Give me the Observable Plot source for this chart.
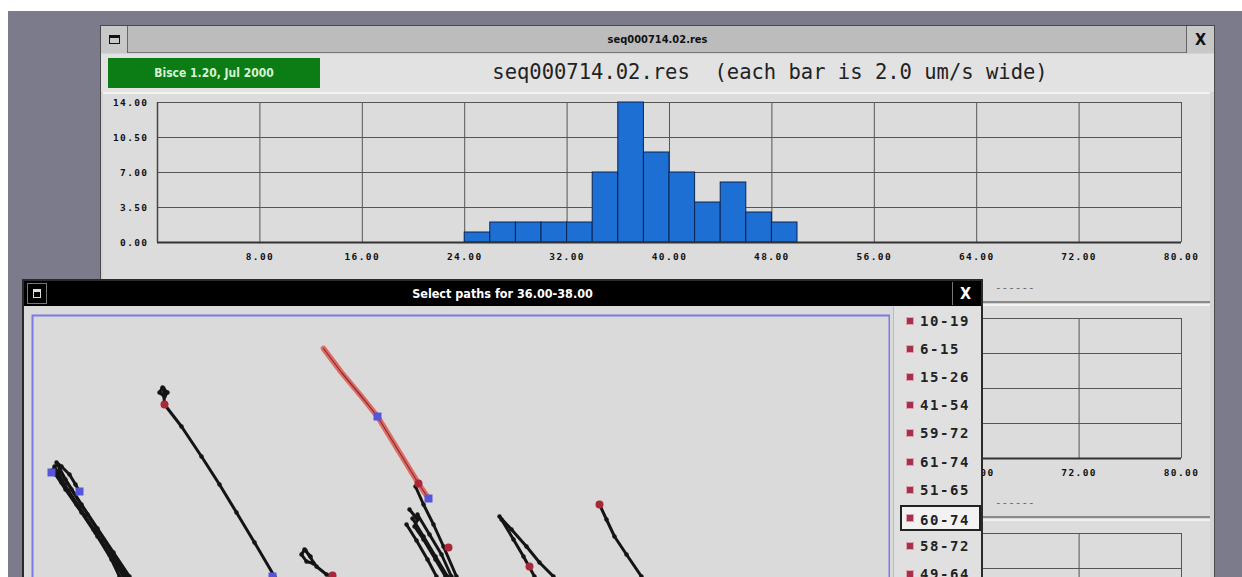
<!DOCTYPE html>
<html><head><meta charset="utf-8">
<script src="https://cdn.jsdelivr.net/npm/d3@7"></script>
<script src="https://cdn.jsdelivr.net/npm/@observablehq/plot@0.6"></script>
<style>
html,body{margin:0;padding:0;width:1242px;height:577px;overflow:hidden;background:#fff;position:relative;}
.a{position:absolute;box-sizing:border-box;}
.bar{font-family:"DejaVu Sans Condensed","DejaVu Sans",sans-serif;font-weight:bold;}
.lg{font-family:"DejaVu Sans Mono",monospace;font-weight:bold;font-size:14px;color:#222;letter-spacing:1.6px;}
.dash{font-family:"DejaVu Sans Mono",monospace;font-size:11px;color:#666;}
</style></head>
<body>
<script>
// ---- histogram data ----
const binStart = [24, 26, 28, 30, 32, 34, 36, 38, 40, 42, 44, 46, 48];
const binCount = [1, 2, 2, 2, 2, 7, 14, 9, 7, 4, 6, 3, 2];
const binWidth = 2;
const xTicks = [8, 16, 24, 32, 40, 48, 56, 64, 72, 80];
const xGrid = [0, 8, 16, 24, 32, 40, 48, 56, 64, 72, 80];
const yTicks = [0, 3.5, 7, 10.5, 14];
const windowTitle = "seq000714.02.res";
const chartTitle = "seq000714.02.res  (each bar is 2.0 um/s wide)";
const versionLabel = "Bisce 1.20, Jul 2000";
const popupTitle = "Select paths for 36.00-38.00";

// ---- path selector data ----
const trackLabels = ["10-19", "6-15", "15-26", "41-54", "59-72", "61-74", "51-65", "60-74", "58-72", "49-64"];
const selectedTrack = "60-74";
const trackRed = [[292,34],[310,58],[330,82],[346,102],[365,133],[387,169],[397,184]];
const trackB = [[131,73],[128,78],[133,82],[136,78],[132,74],[133,90],[150,112],[170,142],[188,170],[205,198],[223,228],[243,262]];
const trackC1 = [[25,148],[30,152],[38,160],[44,170],[48,177]];
const trackC2 = [[22,155],[30,168],[45,190],[62,215],[78,240],[92,262]];
const trackC3 = [[26,150],[34,165],[50,190],[66,214],[82,238],[98,262]];
const trackC4 = [[24,160],[34,175],[50,198],[66,222],[80,245],[88,262]];
const trackC5 = [[28,156],[40,175],[56,200],[72,225],[88,250],[96,262]];
const trackC6 = [[23,152],[33,170],[48,193],[64,218],[80,242],[94,262]];
const trackD = [[273,235],[270,240],[275,247],[282,249],[279,242],[274,236],[285,252],[295,260],[301,262]];
const trackE1 = [[384,172],[392,190],[402,210],[412,232],[425,262]];
const trackE2 = [[378,195],[386,205],[383,212],[392,225],[404,245],[414,262]];
const trackE3 = [[375,210],[385,226],[396,245],[405,262]];
const trackE4 = [[386,200],[398,220],[410,240],[420,262]];
const trackE5 = [[381,204],[392,222],[404,242],[416,262]];
const trackF1 = [[468,202],[480,215],[495,232],[508,248],[522,262]];
const trackF2 = [[470,205],[482,225],[492,242],[503,262]];
const trackG = [[568,190],[575,205],[583,222],[595,240],[610,262]];
const redDots = [[133,90],[387,169],[301,261],[417,233],[498,252],[568,190]];
const blueSquares = [[346,102],[397,184],[48,177],[20,158],[241,262]];
</script>

<div class="a" style="left:8px;top:11px;width:1234px;height:566px;background:#7b7b8c;"></div>

<!-- main window -->
<div class="a" style="left:100px;top:25px;width:1115px;height:560px;background:#d4d4d4;border:1px solid #4a4a4a;"></div>
<div class="a bar" style="left:101px;top:26px;width:1113px;height:27px;background:#bcbcbc;border-bottom:1px solid #777;text-align:center;line-height:27px;font-size:11px;color:#111;" id="wt"></div>
<div class="a" style="left:101px;top:26px;width:27px;height:27px;background:#c8c8c8;border-right:1px solid #666;">
  <div class="a" style="left:8px;top:9px;width:11px;height:9px;border:1.5px solid #111;border-top-width:3px;"></div>
</div>
<div class="a bar" style="left:1186px;top:26px;width:28px;height:27px;background:#c8c8c8;border-left:1px solid #666;text-align:center;line-height:27px;font-size:16px;color:#111;">X</div>
<div class="a" style="left:101px;top:54px;width:1113px;height:38px;background:#e2e2e2;"></div>
<div class="a bar" style="left:108px;top:58px;width:212px;height:30px;background:#0b7d14;color:#d8f2d8;font-size:12px;text-align:center;line-height:30px;" id="ver"></div>
<div class="a" id="ct" style="left:330px;top:60px;width:880px;text-align:center;font-family:'DejaVu Sans Mono',monospace;font-size:20.5px;color:#222;white-space:pre;"></div>

<div class="a" style="left:103px;top:92px;width:1107px;height:211px;background:#dcdcdc;border-top:2px solid #f2f2f2;border-bottom:2px solid #8a8a8a;"></div>
<div class="a" style="left:103px;top:304px;width:1107px;height:214px;background:#dcdcdc;border-top:2px solid #f2f2f2;border-bottom:2px solid #8a8a8a;"></div>
<div class="a" style="left:103px;top:519px;width:1107px;height:70px;background:#dcdcdc;border-top:2px solid #f2f2f2;"></div>
<div class="a" id="h1" style="left:103px;top:92px;"></div>
<div class="a" id="h2" style="left:103px;top:308px;"></div>
<div class="a" id="h3" style="left:103px;top:523px;"></div>
<div class="a dash" style="left:995px;top:281px;">------</div>
<div class="a dash" style="left:995px;top:496px;">------</div>

<!-- popup window -->
<div class="a" style="left:22px;top:279px;width:961px;height:310px;background:#d8d8d8;border:2px solid #2a2a2a;"></div>
<div class="a bar" id="pt" style="left:24px;top:281px;width:957px;height:25px;background:#000;color:#fff;text-align:center;line-height:25px;font-size:12.5px;"></div>
<div class="a" style="left:27px;top:283px;width:20px;height:21px;border:1px solid #777;background:#000;">
  <div class="a" style="left:5px;top:5px;width:8px;height:9px;border:1.5px solid #ddd;border-top-width:3px;"></div>
</div>
<div class="a bar" style="left:952px;top:282px;width:26px;height:23px;border-left:1px solid #777;color:#fff;text-align:center;line-height:23px;font-size:16px;">X</div>
<div class="a" style="left:24px;top:306px;width:957px;height:280px;background:#dadada;"></div>
<div class="a" style="left:893px;top:306px;width:88px;height:280px;background:#e0e0e0;border-left:1px solid #bbb;"></div>
<div class="a" id="paths" style="left:31px;top:314px;"></div>
<div class="a" id="legend" style="left:900px;top:0px;"></div>

<script>
document.getElementById("wt").textContent = windowTitle;
document.getElementById("ct").textContent = chartTitle;
document.getElementById("ver").textContent = versionLabel;
document.getElementById("pt").textContent = popupTitle;

const bins = binStart.map((s, i) => ({x1: s, x2: s + binWidth, count: binCount[i]}));
const fmt = d => d.toFixed(2);

function histo(withBars, withLabels) {
  return Plot.plot({
    width: 1107, height: withLabels ? 190 : 60,
    marginLeft: 54, marginRight: 29, marginTop: 10, marginBottom: withLabels ? 40 : 0,
    style: {fontFamily: "'DejaVu Sans Mono', monospace", fontSize: "9.5px", fontWeight: "bold", letterSpacing: "1.4px", background: "transparent", color: "#111"},
    x: {domain: [0, 80], label: null, axis: withLabels ? undefined : null},
    y: {domain: withLabels ? [0, 14] : [9, 14], label: null, axis: withLabels ? undefined : null},
    marks: [
      Plot.gridX(xGrid, {stroke: "#555", strokeOpacity: 1, strokeWidth: 1}),
      Plot.gridY(yTicks, {stroke: "#555", strokeOpacity: 1, strokeWidth: 1}),
      withBars ? Plot.rectY(bins, {x1: "x1", x2: "x2", y: "count", fill: "#1d6fd4", stroke: "#0b2450", strokeWidth: 1}) : null,
      withLabels ? Plot.ruleY([0], {stroke: "#333", strokeWidth: 2}) : null,
      Plot.ruleX([0], {stroke: "#444", strokeWidth: 1.5}),
      withLabels ? Plot.axisX(xTicks, {tickSize: 0, tickPadding: 11, tickFormat: fmt, fill: "#111", label: null}) : null,
      withLabels ? Plot.axisY(yTicks, {tickSize: 0, tickPadding: 9, tickFormat: fmt, fill: "#111", label: null}) : null
    ]
  });
}
document.getElementById("h1").append(histo(true, true));
document.getElementById("h2").append(histo(false, true));
document.getElementById("h3").append(histo(false, false));

const blackTracks = [trackB, trackC1, trackC2, trackC3, trackC4, trackC5, trackC6, trackD, trackE1, trackE2, trackE3, trackE4, trackE5, trackF1, trackF2, trackG];
const blackData = blackTracks.flatMap((t, i) => t.map(([x, y]) => ({id: i, x, y})));
const paths = Plot.plot({
  width: 859, height: 272, margin: 0,
  style: {background: "transparent"},
  x: {domain: [0, 859], axis: null},
  y: {domain: [0, 272], reverse: true, axis: null},
  marks: [
    Plot.line(blackData, {x: "x", y: "y", z: "id", stroke: "#141414", strokeWidth: 3, strokeLinejoin: "round", curve: "linear"}),
    Plot.dot(blackData, {x: "x", y: "y", r: 2.2, fill: "#141414"}),
    Plot.line(trackRed, {x: d => d[0], y: d => d[1], stroke: "#dc6c66", strokeWidth: 5.5}),
    Plot.line(trackRed, {x: d => d[0], y: d => d[1], stroke: "#8e2c2c", strokeWidth: 1.2}),
    Plot.dot(redDots, {x: d => d[0], y: d => d[1], r: 4, fill: "#a8283a"}),
    Plot.dot(blueSquares, {x: d => d[0], y: d => d[1], symbol: "square", r: 4.5, fill: "#5656d8"}),
    Plot.frame({stroke: "#7b7be6", strokeWidth: 2, inset: 1})
  ]
});
document.getElementById("paths").append(paths);

const lg = document.getElementById("legend");
trackLabels.forEach((lab, i) => {
  const cy = 321 + i * 28.1;
  const item = document.createElement("div");
  item.className = "a lg";
  const sel = lab === selectedTrack;
  item.style.cssText = `left:0px;top:${cy - 13}px;width:81px;height:26px;line-height:26px;padding-left:20px;` +
    (sel ? "border:2px solid #222;background:#f2f2f2;padding-left:18px;" : "");
  item.textContent = lab;
  const sq = document.createElement("div");
  sq.className = "a";
  sq.style.cssText = `left:${sel ? 4 : 6}px;top:${sel ? 7 : 9}px;width:8px;height:8px;background:#a8304c;border:1px solid #e0a0b0;`;
  item.append(sq);
  lg.append(item);
});
</script>
</body></html>
